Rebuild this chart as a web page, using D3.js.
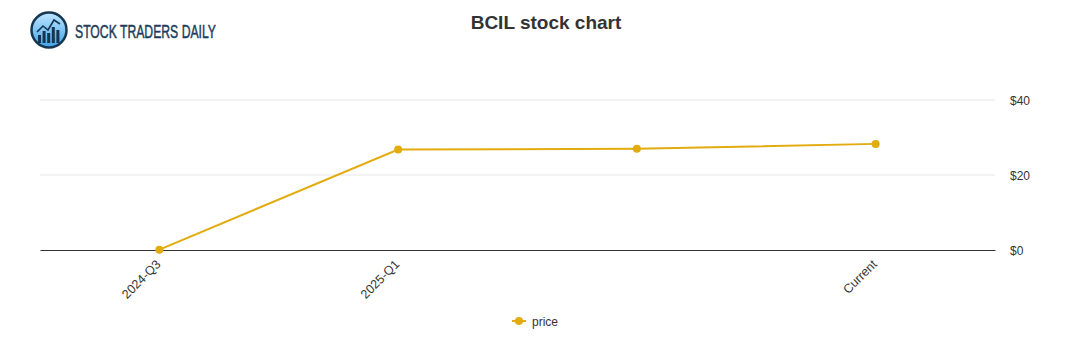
<!DOCTYPE html>
<html>
<head>
<meta charset="utf-8">
<script src="https://cdn.jsdelivr.net/npm/d3@7"></script>
<style>
  body { margin: 0; background: #fff; }
  text { font-family: "Liberation Sans", Arial, sans-serif; }
</style>
</head>
<body>
<div id="chart"></div>
<script>
// chart data
const categories = ["2024-Q3", "2025-Q1", "2025-Q2", "Current"];
const tickLabels = ["2024-Q3", "2025-Q1", "", "Current"];
const prices = [0.1, 26.8, 27.0, 28.3];
const yTicks = [0, 20, 40];

const width = 1091;
const height = 350;
const plotLeft = 40, plotRight = 995, plotTop = 100, plotBottom = 250;
const lineColor = "#e2ab0e";

const svg = d3.select("#chart")
    .append("svg")
    .attr("width", width)
    .attr("height", height);

const xScale = d3.scaleBand()
    .domain(categories)
    .range([plotLeft, plotRight]);

const yScale = d3.scaleLinear()
    .domain([0, 40])
    .range([plotBottom, plotTop]);

// gridlines
svg.selectAll("line.grid")
    .data(yTicks.filter(d => d !== 0))
    .enter()
    .append("line")
    .attr("class", "grid")
    .attr("x1", plotLeft)
    .attr("x2", plotRight)
    .attr("y1", d => yScale(d))
    .attr("y2", d => yScale(d))
    .attr("stroke", "#e6e6e6")
    .attr("stroke-width", 1);

// y axis on the right, labels only
const yAxis = d3.axisRight(yScale)
    .tickValues(yTicks)
    .tickSize(0)
    .tickPadding(15)
    .tickFormat(d => "$" + d);

svg.append("g")
    .attr("id", "y-axis")
    .attr("transform", "translate(" + plotRight + ",1)")
    .call(yAxis)
    .call(g => g.select(".domain").remove())
    .call(g => g.selectAll("text")
        .attr("font-size", 12)
        .attr("fill", "#333")
        .attr("font-family", "Liberation Sans, Arial, sans-serif"));

// x axis
const xAxis = d3.axisBottom(xScale)
    .tickSize(0)
    .tickFormat((d, i) => tickLabels[i]);

svg.append("g")
    .attr("id", "x-axis")
    .attr("transform", "translate(0," + plotBottom + ")")
    .call(xAxis)
    .call(g => g.select(".domain").attr("stroke", "#333").attr("stroke-width", 1.2))
    .call(g => g.selectAll("text")
        .attr("font-size", 12.5)
        .attr("fill", "#333")
        .attr("font-family", "Liberation Sans, Arial, sans-serif")
        .attr("text-anchor", "end")
        .attr("dy", null)
        .attr("y", 0)
        .attr("transform", "translate(2,15) rotate(-45)"));

// price line
const xc = d => xScale(d) + xScale.bandwidth() / 2;
const line = d3.line()
    .x((d, i) => xc(categories[i]))
    .y(d => yScale(d));

svg.append("path")
    .datum(prices)
    .attr("d", line)
    .attr("fill", "none")
    .attr("stroke", lineColor)
    .attr("stroke-width", 2);

svg.selectAll("circle.dot")
    .data(prices)
    .enter()
    .append("circle")
    .attr("class", "dot")
    .attr("r", 4)
    .attr("cx", (d, i) => xc(categories[i]))
    .attr("cy", d => yScale(d))
    .attr("fill", lineColor);

// title
svg.append("text")
    .attr("x", 546)
    .attr("y", 29)
    .attr("text-anchor", "middle")
    .attr("font-size", 19)
    .attr("font-weight", "bold")
    .attr("fill", "#333")
    .text("BCIL stock chart");

// legend
const legend = svg.append("g").attr("transform", "translate(512,321)");
legend.append("line")
    .attr("x1", 0).attr("x2", 14)
    .attr("stroke", lineColor)
    .attr("stroke-width", 2);
legend.append("circle")
    .attr("cx", 7).attr("r", 4)
    .attr("fill", lineColor);
legend.append("text")
    .attr("x", 20).attr("y", 4.5)
    .attr("font-size", 12)
    .attr("fill", "#333")
    .text("price");

// logo
const logo = svg.append("g").attr("transform", "translate(49,30)");
const defs = svg.append("defs");
const grad = defs.append("linearGradient")
    .attr("id", "logoGrad")
    .attr("x1", 0).attr("y1", 0).attr("x2", 0).attr("y2", 1);
grad.append("stop").attr("offset", "0%").attr("stop-color", "#bfe6ff");
grad.append("stop").attr("offset", "100%").attr("stop-color", "#3fa3e8");
logo.append("circle")
    .attr("r", 17.5)
    .attr("fill", "url(#logoGrad)")
    .attr("stroke", "#16364f")
    .attr("stroke-width", 2.5);
const barsH = [8, 12, 10, 16, 13];
logo.selectAll("rect")
    .data(barsH)
    .enter()
    .append("rect")
    .attr("x", (d, i) => -11 + i * 4.6)
    .attr("y", d => 13 - d)
    .attr("width", 3)
    .attr("height", d => d)
    .attr("fill", "#16364f");
logo.append("path")
    .attr("d", "M-12,2 L-6,-4 L-1,0 L5,-10 L11,-6")
    .attr("fill", "none")
    .attr("stroke", "#16364f")
    .attr("stroke-width", 1.6);
logo.append("text")
    .attr("x", 26)
    .attr("y", 8)
    .attr("font-size", 19)
    .attr("font-family", "Liberation Sans Narrow, DejaVu Sans Condensed, sans-serif")
    .attr("textLength", 141)
    .attr("lengthAdjust", "spacingAndGlyphs")
    .attr("fill", "#1b3d5a")
    .attr("stroke", "#1b3d5a")
    .attr("stroke-width", 0.5)
    .text("STOCK TRADERS DAILY");
</script>
</body>
</html>
